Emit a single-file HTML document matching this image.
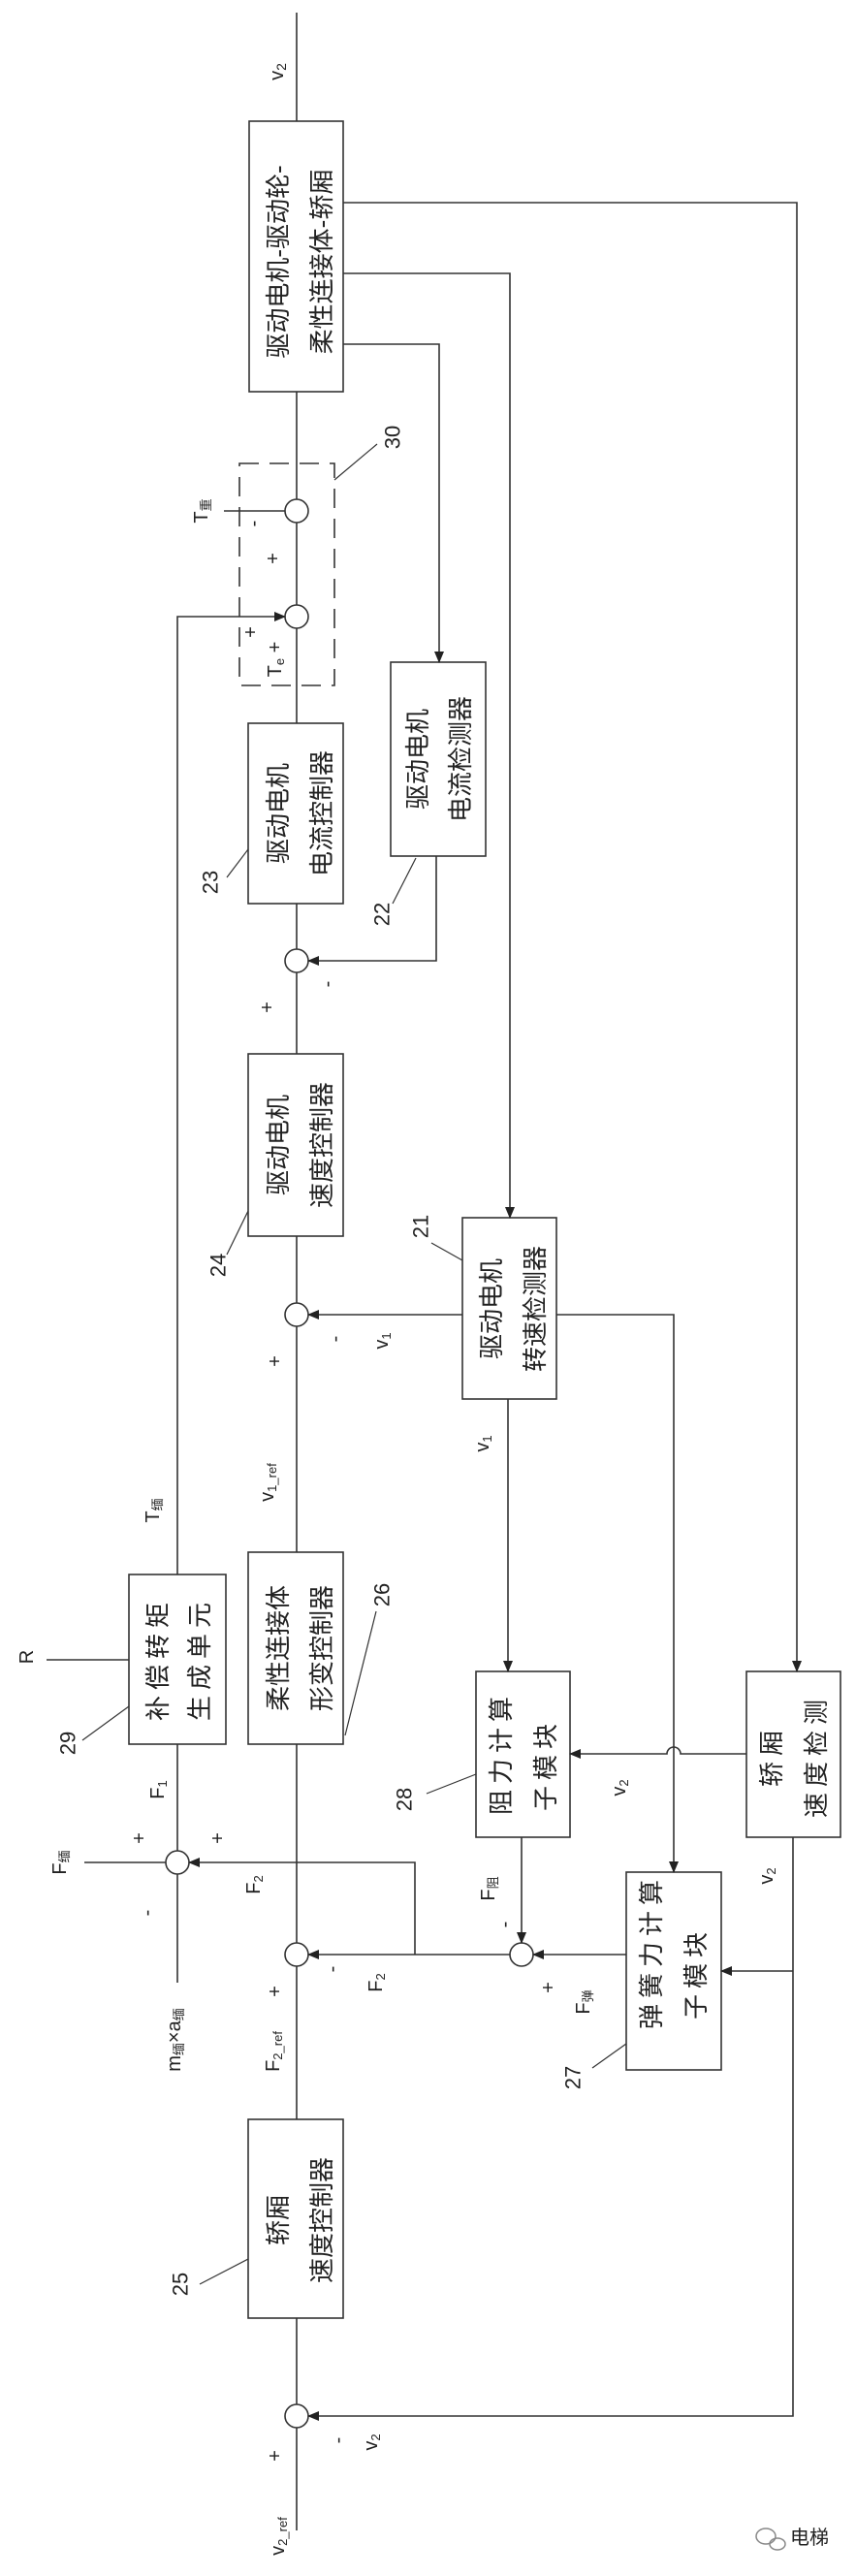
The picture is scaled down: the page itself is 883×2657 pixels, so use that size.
<!DOCTYPE html>
<html><head><meta charset="utf-8"><style>
html,body{margin:0;padding:0;background:#fff;}
svg{display:block;}
text{font-family:"Liberation Sans","Noto Sans CJK SC",sans-serif;fill:#222;}
.b{font-size:26px;}
.l{font-size:20px;}
</style></head><body>
<svg width="883" height="2657" viewBox="0 0 883 2657" xmlns="http://www.w3.org/2000/svg">
<defs>
<marker id="a" markerWidth="12" markerHeight="10" refX="11" refY="5" orient="auto" markerUnits="userSpaceOnUse">
<path d="M0,0 L12,5 L0,10 Z" fill="#222"/></marker>
</defs>
<g stroke="#333" stroke-width="1.6" fill="none">
<!-- main line -->
<path d="M306,13V125 M306,404V515 M306,539V624 M306,648V746 M306,932V979 M306,1003V1087 M306,1275V1344 M306,1368V1601 M306,1799V2004 M306,2028V2186 M306,2391V2480 M306,2504V2610"/>
<!-- boxes -->
<rect x="257" y="125" width="97" height="279" fill="#fff"/>
<rect x="403" y="683" width="98" height="200"/>
<rect x="256" y="746" width="98" height="186"/>
<rect x="256" y="1087" width="98" height="188"/>
<rect x="477" y="1256" width="97" height="187"/>
<rect x="133" y="1624" width="100" height="175"/>
<rect x="256" y="1601" width="98" height="198"/>
<rect x="491" y="1724" width="97" height="171"/>
<rect x="770" y="1724" width="97" height="171"/>
<rect x="646" y="1931" width="98" height="204"/>
<rect x="256" y="2186" width="98" height="205"/>
<!-- circles -->
<circle cx="306" cy="527" r="12"/>
<circle cx="306" cy="636" r="12"/>
<circle cx="306" cy="991" r="12"/>
<circle cx="306" cy="1356" r="12"/>
<circle cx="183" cy="1921" r="12"/>
<circle cx="306" cy="2016" r="12"/>
<circle cx="538" cy="2016" r="12"/>
<circle cx="306" cy="2492" r="12"/>
<!-- dashed box -->
<rect x="247" y="478" width="98" height="229" stroke-dasharray="20,11"/>
<!-- connectors -->
<path d="M354,209H822V1724" marker-end="url(#a)"/>
<path d="M354,282H526V1256" marker-end="url(#a)"/>
<path d="M354,355H453V683" marker-end="url(#a)"/>
<path d="M450,883V991H318" marker-end="url(#a)"/>
<path d="M477,1356H318" marker-end="url(#a)"/>
<path d="M574,1356H695V1931" marker-end="url(#a)"/>
<path d="M524,1443V1724" marker-end="url(#a)"/>
<path d="M770,1809H702 A7,7 0 0 0 688,1809 H588" marker-end="url(#a)"/>
<path d="M818,1895V2492H318" marker-end="url(#a)"/>
<path d="M818,2033H744" marker-end="url(#a)"/>
<path d="M538,1895V2004" marker-end="url(#a)"/>
<path d="M646,2016H550" marker-end="url(#a)"/>
<path d="M526,2016H318" marker-end="url(#a)"/>
<path d="M428,2016V1921H195" marker-end="url(#a)"/>
<path d="M183,1624V636H294" marker-end="url(#a)"/>
<path d="M183,1799V1909 M183,1933V2045"/>
<path d="M87,1921H171"/>
<path d="M48,1712H133"/>
<path d="M231,527H294"/>
<!-- leaders -->
<path d="M345,495L389,458 M234,905L256,876 M405,932L429,885 M234,1294L256,1249 M445,1282L477,1300 M356,1790L388,1662 M85,1795L133,1760 M440,1850L491,1830 M611,2133L646,2108 M206,2356L256,2330" stroke-width="1.2"/>
</g>
<g text-anchor="middle" dominant-baseline="central">
<!-- box texts -->
<g class="b">
<text transform="translate(287,270) rotate(-90)">驱动电机-驱动轮-</text>
<text transform="translate(332,270) rotate(-90)">柔性连接体-轿厢</text>
<text transform="translate(431,783) rotate(-90)">驱动电机</text>
<text transform="translate(475,783) rotate(-90)">电流检测器</text>
<text transform="translate(287,839) rotate(-90)">驱动电机</text>
<text transform="translate(332,839) rotate(-90)">电流控制器</text>
<text transform="translate(287,1181) rotate(-90)">驱动电机</text>
<text transform="translate(332,1181) rotate(-90)">速度控制器</text>
<text transform="translate(507,1350) rotate(-90)">驱动电机</text>
<text transform="translate(552,1350) rotate(-90)">转速检测器</text>
<text transform="translate(163,1711) rotate(-90)" letter-spacing="6">补偿转矩</text>
<text transform="translate(206,1711) rotate(-90)" letter-spacing="6">生成单元</text>
<text transform="translate(287,1700) rotate(-90)">柔性连接体</text>
<text transform="translate(332,1700) rotate(-90)">形变控制器</text>
<text transform="translate(517,1808) rotate(-90)" letter-spacing="6">阻力计算</text>
<text transform="translate(563,1820) rotate(-90)" letter-spacing="6">子模块</text>
<text transform="translate(796,1811) rotate(-90)" letter-spacing="6">轿厢</text>
<text transform="translate(842,1811) rotate(-90)" letter-spacing="6">速度检测</text>
<text transform="translate(672,2013) rotate(-90)" letter-spacing="6">弹簧力计算</text>
<text transform="translate(718,2035) rotate(-90)" letter-spacing="6">子模块</text>
<text transform="translate(287,2290) rotate(-90)">轿厢</text>
<text transform="translate(332,2290) rotate(-90)">速度控制器</text>
</g>
<g class="l">
<text transform="translate(286,74) rotate(-90)">v<tspan font-size="14" dy="4">2</tspan></text>
<text transform="translate(405,451) rotate(-90)" font-size="22">30</text>
<text transform="translate(208,527) rotate(-90)">T<tspan font-size="13" dy="4">重</tspan></text>
<text transform="translate(262,540) rotate(-90)">-</text>
<text transform="translate(282,576) rotate(-90)">+</text>
<text transform="translate(259,652) rotate(-90)">+</text>
<text transform="translate(284,680) rotate(-90)">T<tspan font-size="13" dy="4">e</tspan><tspan dy="-4"> +</tspan></text>
<text transform="translate(217,910) rotate(-90)" font-size="22">23</text>
<text transform="translate(394,943) rotate(-90)" font-size="22">22</text>
<text transform="translate(338,1015) rotate(-90)">-</text>
<text transform="translate(276,1039) rotate(-90)">+</text>
<text transform="translate(225,1305) rotate(-90)" font-size="22">24</text>
<text transform="translate(434,1265) rotate(-90)" font-size="22">21</text>
<text transform="translate(346,1381) rotate(-90)">-</text>
<text transform="translate(394,1383) rotate(-90)">v<tspan font-size="13" dy="4">1</tspan></text>
<text transform="translate(284,1404) rotate(-90)">+</text>
<text transform="translate(498,1489) rotate(-90)">v<tspan font-size="13" dy="4">1</tspan></text>
<text transform="translate(158,1558) rotate(-90)">T<tspan font-size="13" dy="4">缅</tspan></text>
<text transform="translate(276,1529) rotate(-90)">v<tspan font-size="13" dy="4">1_ref</tspan></text>
<text transform="translate(28,1709) rotate(-90)">R</text>
<text transform="translate(394,1645) rotate(-90)" font-size="22">26</text>
<text transform="translate(70,1798) rotate(-90)" font-size="22">29</text>
<text transform="translate(417,1856) rotate(-90)" font-size="22">28</text>
<text transform="translate(639,1844) rotate(-90)">v<tspan font-size="13" dy="4">2</tspan></text>
<text transform="translate(163,1846) rotate(-90)">F<tspan font-size="13" dy="4">1</tspan></text>
<text transform="translate(144,1896) rotate(-90)">+</text>
<text transform="translate(225,1896) rotate(-90)">+</text>
<text transform="translate(62,1921) rotate(-90)">F<tspan font-size="13" dy="4">缅</tspan></text>
<text transform="translate(262,1944) rotate(-90)">F<tspan font-size="13" dy="4">2</tspan></text>
<text transform="translate(152,1973) rotate(-90)">-</text>
<text transform="translate(504,1948) rotate(-90)">F<tspan font-size="13" dy="4">阻</tspan></text>
<text transform="translate(791,1935) rotate(-90)">v<tspan font-size="13" dy="4">2</tspan></text>
<text transform="translate(521,1985) rotate(-90)">-</text>
<text transform="translate(566,2050) rotate(-90)">+</text>
<text transform="translate(602,2065) rotate(-90)">F<tspan font-size="13" dy="4">弹</tspan></text>
<text transform="translate(343,2031) rotate(-90)">-</text>
<text transform="translate(388,2045) rotate(-90)">F<tspan font-size="13" dy="4">2</tspan></text>
<text transform="translate(284,2054) rotate(-90)">+</text>
<text transform="translate(180,2104) rotate(-90)">m<tspan font-size="13" dy="4">缅</tspan><tspan dy="-4">×a</tspan><tspan font-size="13" dy="4">缅</tspan></text>
<text transform="translate(282,2116) rotate(-90)">F<tspan font-size="13" dy="4">2_ref</tspan></text>
<text transform="translate(591,2143) rotate(-90)" font-size="22">27</text>
<text transform="translate(186,2356) rotate(-90)" font-size="22">25</text>
<text transform="translate(349,2517) rotate(-90)">-</text>
<text transform="translate(383,2519) rotate(-90)">v<tspan font-size="13" dy="4">2</tspan></text>
<text transform="translate(284,2533) rotate(-90)">+</text>
<text transform="translate(287,2616) rotate(-90)">v<tspan font-size="13" dy="4">2_ref</tspan></text>
</g>
<text x="835" y="2618" font-size="20" fill="#666">电梯</text>
</g>
<g stroke="#888" stroke-width="1.5" fill="none">
<ellipse cx="790" cy="2616" rx="10" ry="8"/>
<ellipse cx="802" cy="2624" rx="8" ry="6"/>
</g>
</svg>
</body></html>
